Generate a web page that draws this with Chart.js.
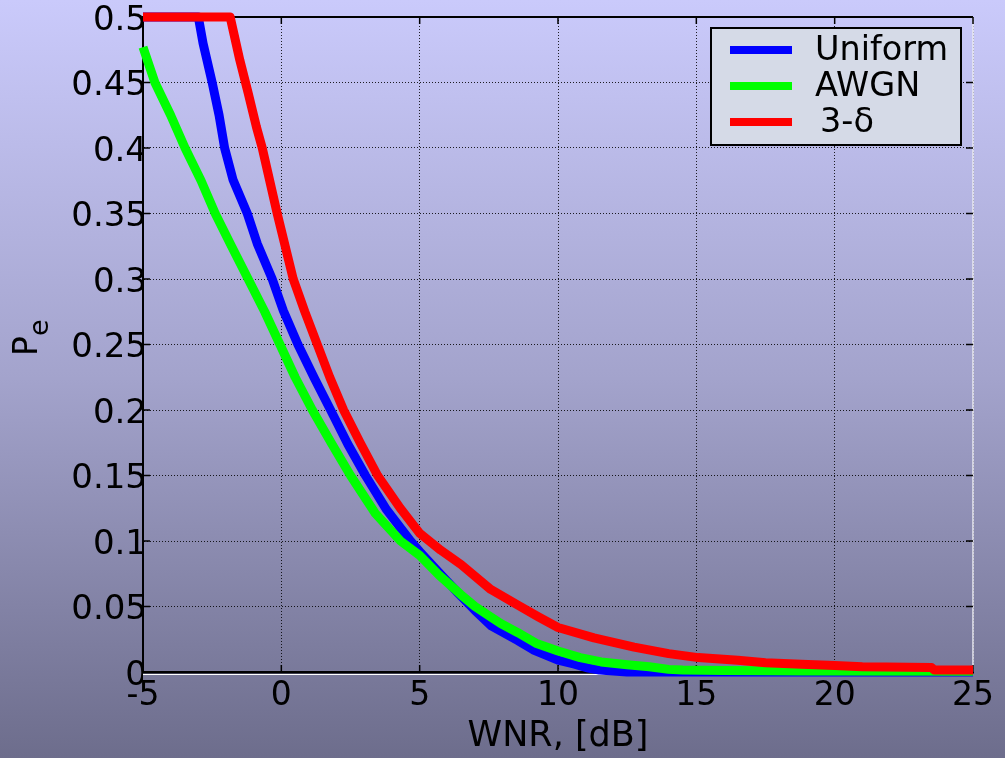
<!DOCTYPE html>
<html lang="en">
<head>
    <meta charset="UTF-8">
    <title>Pe vs WNR</title>
    <script src="https://cdn.jsdelivr.net/npm/chart.js@4"></script>
    <style>
        body { margin: 0; padding: 0; overflow: hidden; background: #9a9ac0; }
        canvas { display: block; }
    </style>
</head>
<body>
    <canvas id="peChart" width="1005" height="758"></canvas>

    <script>
        // Uniform
        const wnrUniform = [-5, -3.0, -2.83, -2.5, -2.25, -2.05, -1.75, -1.23, -0.87, -0.33, 0.07, 0.6, 1.2, 1.78, 2.4, 3.04, 3.8, 4.67, 5.0, 5.7, 6.4, 7.0, 7.6, 8.55, 9.1, 10.0, 10.6, 11.1, 11.5, 12.5, 25];
        const peUniform = [0.5, 0.5, 0.48, 0.45, 0.425, 0.4, 0.376, 0.35, 0.327, 0.3, 0.276, 0.25, 0.224, 0.2, 0.174, 0.15, 0.124, 0.1, 0.092, 0.076, 0.06, 0.047, 0.035, 0.024, 0.017, 0.009, 0.006, 0.003, 0.0015, 0, 0];

        // AWGN
        const wnrAwgn = [-5, -4.57, -4.0, -3.48, -2.9, -2.39, -1.8, -1.2, -0.6, -0.05, 0.5, 1.12, 1.8, 2.5, 3.4, 4.31, 5.0, 5.7, 6.49, 7.0, 7.64, 7.93, 8.55, 9.2, 10.0, 10.8, 11.56, 12.5, 13.3, 14.0, 14.5, 16, 18.8, 25];
        const peAwgn = [0.477, 0.45, 0.425, 0.4, 0.375, 0.35, 0.325, 0.3, 0.275, 0.25, 0.225, 0.2, 0.175, 0.15, 0.121, 0.1, 0.089, 0.074, 0.059, 0.05, 0.041, 0.037, 0.030, 0.022, 0.016, 0.011, 0.0077, 0.0055, 0.004, 0.002, 0.0015, 0.0012, 0.0008, 0.0005];

        // 3-delta
        const wnrDelta = [-5, -1.85, -1.5, -1.2, -0.9, -0.69, -0.15, 0.43, 0.85, 1.3, 1.75, 2.25, 2.85, 3.48, 4.3, 5.0, 5.76, 6.5, 7.57, 8.55, 9.3, 10.0, 11.3, 12.75, 14.0, 15.07, 16.5, 17.5, 18.8, 20.0, 21.0, 23.5, 23.6, 25];
        const peDelta = [0.5, 0.5, 0.467, 0.442, 0.416, 0.4, 0.35, 0.3, 0.275, 0.25, 0.225, 0.2, 0.175, 0.15, 0.125, 0.106, 0.093, 0.082, 0.063, 0.051, 0.042, 0.034, 0.026, 0.019, 0.014, 0.011, 0.009, 0.007, 0.006, 0.005, 0.004, 0.0035, 0.0015, 0.0015];

        const xTicks = [-5, 0, 5, 10, 15, 20, 25];
        const yTicks = [0, 0.05, 0.1, 0.15, 0.2, 0.25, 0.3, 0.35, 0.4, 0.45, 0.5];

        const FONT = 'DejaVu Sans';

        function toPoints(xs, ys) {
            return xs.map((x, i) => ({ x: x, y: ys[i] }));
        }

        // background gradient, frame, inner ticks, y title and legend
        const decorPlugin = {
            id: 'decor',
            beforeDraw(chart) {
                const ctx = chart.ctx;
                const g = ctx.createLinearGradient(0, 0, 0, chart.height);
                g.addColorStop(0, '#cacafb');
                g.addColorStop(0.5, '#a3a3cc');
                g.addColorStop(1, '#6d6d8c');
                ctx.save();
                ctx.fillStyle = g;
                ctx.fillRect(0, 0, chart.width, chart.height);
                ctx.restore();
            },
            beforeDatasetsDraw(chart) {
                const { ctx, chartArea: a } = chart;
                const xs = chart.scales.x, ys = chart.scales.y;
                ctx.save();
                // top / right frame
                ctx.strokeStyle = '#000';
                ctx.lineWidth = 2;
                ctx.beginPath();
                ctx.moveTo(a.left, a.top);
                ctx.lineTo(a.right, a.top);
                ctx.stroke();
                ctx.strokeStyle = '#e8e8f0';
                ctx.lineWidth = 1.5;
                ctx.beginPath();
                ctx.moveTo(a.right, a.top);
                ctx.lineTo(a.right, a.bottom);
                ctx.stroke();
                // white line under the x axis
                ctx.strokeStyle = '#ffffff';
                ctx.lineWidth = 1;
                ctx.beginPath();
                ctx.moveTo(a.left, a.bottom + 2.5);
                ctx.lineTo(a.right, a.bottom + 2.5);
                ctx.stroke();
                // inward tick marks
                ctx.strokeStyle = '#000';
                ctx.lineWidth = 1.5;
                ctx.beginPath();
                xTicks.forEach(v => {
                    const px = xs.getPixelForValue(v);
                    ctx.moveTo(px, a.bottom); ctx.lineTo(px, a.bottom - 7);
                    ctx.moveTo(px, a.top); ctx.lineTo(px, a.top + 7);
                });
                yTicks.forEach(v => {
                    const py = ys.getPixelForValue(v);
                    ctx.moveTo(a.left, py); ctx.lineTo(a.left + 7, py);
                    ctx.moveTo(a.right, py); ctx.lineTo(a.right - 7, py);
                });
                ctx.stroke();
                ctx.restore();
            },
            afterDraw(chart) {
                const ctx = chart.ctx;
                ctx.save();
                // y title: P with subscript e
                ctx.fillStyle = '#000';
                ctx.translate(37, 356);
                ctx.rotate(-Math.PI / 2);
                ctx.textAlign = 'left';
                ctx.textBaseline = 'alphabetic';
                ctx.font = '33px "' + FONT + '"';
                ctx.fillText('P', 0, 0);
                const pw = ctx.measureText('P').width;
                ctx.font = '27px "' + FONT + '"';
                ctx.fillText('e', pw, 11);
                ctx.restore();

                // legend box
                const lx = 711, ly = 28, lw = 250, lh = 117;
                ctx.save();
                ctx.fillStyle = '#d5dae7';
                ctx.fillRect(lx, ly, lw, lh);
                ctx.strokeStyle = '#000';
                ctx.lineWidth = 2;
                ctx.strokeRect(lx, ly, lw, lh);
                ctx.font = '33.5px "' + FONT + '"';
                ctx.textBaseline = 'middle';
                ctx.textAlign = 'left';
                chart.data.datasets.forEach((ds, i) => {
                    const y = 50 + 36 * i;
                    ctx.strokeStyle = ds.borderColor;
                    ctx.lineWidth = 8;
                    ctx.beginPath();
                    ctx.moveTo(730, y);
                    ctx.lineTo(792, y);
                    ctx.stroke();
                    ctx.fillStyle = '#000';
                    ctx.fillText(ds.label, i === 2 ? 820 : 815, y + 1);
                });
                ctx.restore();
            }
        };

        const ctx = document.getElementById('peChart').getContext('2d');
        const peChart = new Chart(ctx, {
            type: 'line',
            data: {
                datasets: [
                    { label: 'Uniform', data: toPoints(wnrUniform, peUniform), borderColor: '#0000ff', order: 3 },
                    { label: 'AWGN', data: toPoints(wnrAwgn, peAwgn), borderColor: '#00ff00', order: 2 },
                    { label: '3-δ', data: toPoints(wnrDelta, peDelta), borderColor: '#ff0000', order: 1 }
                ]
            },
            options: {
                responsive: false,
                animation: false,
                devicePixelRatio: 1,
                layout: { padding: { top: 17, right: 32, left: 0, bottom: 0 } },
                elements: {
                    line: { borderWidth: 9, tension: 0, fill: false, borderJoinStyle: 'round', borderCapStyle: 'butt' },
                    point: { radius: 0 }
                },
                datasets: { line: { clip: 10 } },
                plugins: {
                    legend: { display: false },
                    tooltip: { enabled: false }
                },
                scales: {
                    x: {
                        type: 'linear',
                        min: -5,
                        max: 25,
                        afterBuildTicks: s => { s.ticks = xTicks.map(v => ({ value: v })); },
                        afterFit: s => { s.height = 86; },
                        ticks: {
                            color: '#000',
                            font: { family: FONT, size: 33 },
                            padding: 5,
                            maxRotation: 0
                        },
                        grid: { color: 'rgba(0,0,0,0.85)', lineWidth: 1, drawTicks: false },
                        border: { color: '#000', width: 2.5, dash: [1, 2] },
                        title: {
                            display: true,
                            text: 'WNR, [dB]',
                            color: '#000',
                            font: { family: FONT, size: 35 },
                            padding: { top: 0, bottom: 0 }
                        }
                    },
                    y: {
                        type: 'linear',
                        min: 0,
                        max: 0.5,
                        afterBuildTicks: s => { s.ticks = yTicks.map(v => ({ value: v })); },
                        afterFit: s => { s.width = 143; },
                        ticks: {
                            color: '#000',
                            font: { family: FONT, size: 34 },
                            padding: -4,
                            labelOffset: 4,
                            callback: v => String(Number(v.toFixed(2)))
                        },
                        grid: { color: 'rgba(0,0,0,0.85)', lineWidth: 1, drawTicks: false },
                        border: { color: '#000', width: 2, dash: [1, 2] }
                    }
                }
            },
            plugins: [decorPlugin]
        });
    </script>
</body>
</html>
